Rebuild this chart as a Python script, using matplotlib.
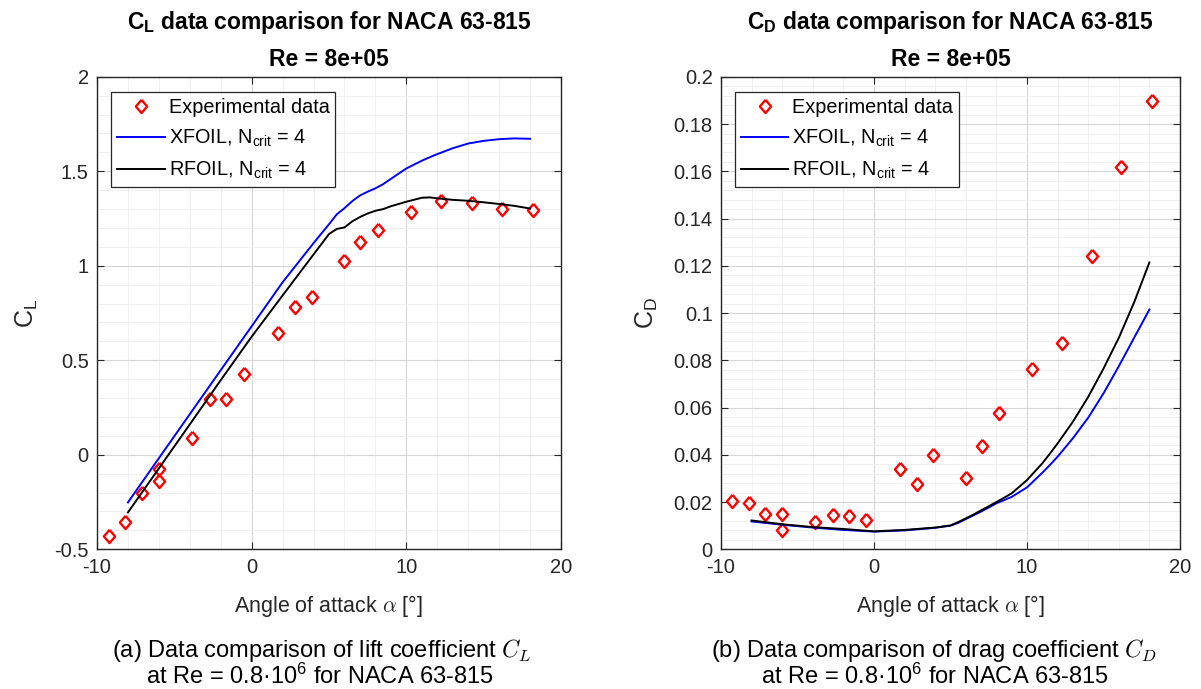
import numpy as np
import matplotlib
matplotlib.use('Agg')
import matplotlib.pyplot as plt
from matplotlib.ticker import MultipleLocator, FuncFormatter

plt.rcParams['font.family'] = ['Liberation Sans', 'DejaVu Sans']
plt.rcParams['mathtext.fontset'] = 'custom'
plt.rcParams['mathtext.rm'] = 'Liberation Sans'
plt.rcParams['mathtext.it'] = 'Liberation Sans:italic'
plt.rcParams['mathtext.bf'] = 'Liberation Sans:bold'
plt.rcParams['axes.unicode_minus'] = False

# experimental data (NACA 63-815, Re = 0.8e6)
alpha_exp = [-9.25, -8.2, -7.1, -6.0, -6.0, -3.85, -2.67, -1.65, -0.5, 1.73,
             2.78, 3.88, 6.0, 7.03, 8.18, 10.3, 12.27, 14.27, 16.17, 18.2]
cl_exp = [-0.432, -0.356, -0.203, -0.076, -0.139, 0.090, 0.294, 0.294, 0.428, 0.643,
          0.782, 0.835, 1.025, 1.126, 1.191, 1.286, 1.344, 1.334, 1.299, 1.293]
cd_exp = [0.0206, 0.0194, 0.0148, 0.0148, 0.0082, 0.0115, 0.0146, 0.0141, 0.0124, 0.0341,
          0.0276, 0.0400, 0.0302, 0.0437, 0.0578, 0.0765, 0.0874, 0.1243, 0.1617, 0.1897]

# calculated polars
alpha_calc = [-8, -6, -4, -2, 0, 2, 4, 5, 5.5, 6, 6.5, 7, 7.5, 8, 8.5, 9,
              10, 11, 11.5, 12, 13, 14, 15, 16, 17, 18]
cl_xfoil = [-0.252, -0.018, 0.215, 0.448, 0.68, 0.913, 1.12, 1.22, 1.272, 1.305,
            1.342, 1.372, 1.392, 1.41, 1.432, 1.46, 1.515, 1.556, 1.574, 1.591,
            1.622, 1.647, 1.661, 1.670, 1.674, 1.672]
cl_rfoil = [-0.305, -0.072, 0.161, 0.395, 0.625, 0.843, 1.06, 1.168, 1.195, 1.203,
            1.235, 1.258, 1.277, 1.291, 1.300, 1.315, 1.339, 1.36, 1.362, 1.357,
            1.349, 1.344, 1.336, 1.327, 1.317, 1.303]
cd_xfoil = [0.0118, 0.0104, 0.0092, 0.0082, 0.0075, 0.0080, 0.0091, 0.0100, 0.0112, 0.0128,
            0.0144, 0.0160, 0.0177, 0.0195, 0.0208, 0.0222, 0.0262, 0.0324, 0.0357, 0.0392,
            0.047, 0.0557, 0.0660, 0.0775, 0.0895, 0.1015]
cd_rfoil = [0.0122, 0.0106, 0.0094, 0.0086, 0.0076, 0.0082, 0.0092, 0.0101, 0.0115, 0.0131,
            0.0147, 0.0165, 0.0182, 0.0200, 0.0218, 0.0237, 0.0293, 0.0364, 0.0405, 0.0448,
            0.054, 0.0645, 0.0765, 0.0895, 0.1045, 0.1214]

W, H = 1201, 689
fig = plt.figure(figsize=(W / 100, H / 100), dpi=100)

dark = '#262626'
diamond = [(0, 1), (0.85, 0), (0, -1), (-0.85, 0), (0, 1)]


def setup_axes(ax, ylim, ymajor, yminor):
    ax.set_xlim(-10, 20)
    ax.set_ylim(*ylim)
    ax.xaxis.set_major_locator(MultipleLocator(10))
    ax.xaxis.set_minor_locator(MultipleLocator(2))
    ax.yaxis.set_major_locator(MultipleLocator(ymajor))
    ax.yaxis.set_minor_locator(MultipleLocator(yminor))
    ax.yaxis.set_major_formatter(FuncFormatter(lambda v, p: '%g' % round(v, 6)))
    ax.xaxis.set_major_formatter(FuncFormatter(lambda v, p: '%g' % v))
    ax.grid(which='major', color='#d6d6d6', linewidth=0.8)
    ax.grid(which='minor', color='#eeeeee', linewidth=0.6)
    ax.set_axisbelow(True)
    ax.tick_params(which='major', direction='in', length=5, width=0.8, top=True, right=True,
                   labelsize=14.5, colors=dark, pad=6)
    ax.tick_params(which='minor', length=0)
    for s in ax.spines.values():
        s.set_color(dark)
        s.set_linewidth(1.0)


def draw(ax, y_exp, y_xf, y_rf, name):
    ax.plot(alpha_exp, y_exp, linestyle='none', marker=diamond, markersize=9.5,
            markerfacecolor='none', markeredgecolor='#ff0000', markeredgewidth=1.7,
            label='Experimental data')
    ax.plot(alpha_calc, y_xf, color='#0000ff', linewidth=1.4, label=r'XFOIL, N$_\mathrm{crit}$ = 4')
    ax.plot(alpha_calc, y_rf, color='black', linewidth=1.4, label=r'RFOIL, N$_\mathrm{crit}$ = 4')
    leg = ax.legend(loc='upper left', bbox_to_anchor=(0.03, 0.968), borderaxespad=0,
                    fontsize=14.3, frameon=True, fancybox=False, edgecolor=dark,
                    handlelength=2.4, handletextpad=0.2, borderpad=0.3, labelspacing=0.55,
                    framealpha=1)
    leg.get_frame().set_linewidth(0.9)
    ax.set_xlabel(r'Angle of attack $\alpha$ [°]', fontsize=15.5, color=dark,
                  math_fontfamily='cm', labelpad=12)
    ax.set_ylabel(r'C$_\mathrm{%s}$' % name, fontsize=18, color=dark, labelpad=10)
    ax.text(0.5, 1.102, r'C$_\mathbf{%s}$ data comparison for NACA 63-815' % name,
            transform=ax.transAxes, ha='center', va='baseline', fontsize=16.5, fontweight='bold')
    ax.text(0.5, 1.023, 'Re = 8e+05', transform=ax.transAxes, ha='center', va='baseline',
            fontsize=16.5, fontweight='bold')


ax1 = fig.add_axes([97 / W, 1 - 549.3 / H, 464 / W, 472.5 / H])
setup_axes(ax1, (-0.5, 2), 0.5, 0.1)
draw(ax1, cl_exp, cl_xfoil, cl_rfoil, 'L')

ax2 = fig.add_axes([721 / W, 1 - 549.3 / H, 459 / W, 472.5 / H])
setup_axes(ax2, (0, 0.2), 0.02, 0.004)
draw(ax2, cd_exp, cd_xfoil, cd_rfoil, 'D')

# captions
fig.text(322 / W, 1 - 651 / H, r'(a) Data comparison of lift coefficient $C_L$',
         ha='center', va='center', fontsize=17, math_fontfamily='cm')
fig.text(320 / W, 1 - 676 / H, 'at Re = 0.8·10$^6$ for NACA 63-815',
         ha='center', va='center', fontsize=17)
fig.text(934 / W, 1 - 651 / H, r'(b) Data comparison of drag coefficient $C_D$',
         ha='center', va='center', fontsize=17, math_fontfamily='cm')
fig.text(935 / W, 1 - 676 / H, 'at Re = 0.8·10$^6$ for NACA 63-815',
         ha='center', va='center', fontsize=17)

fig.savefig('out.png', dpi=100)
